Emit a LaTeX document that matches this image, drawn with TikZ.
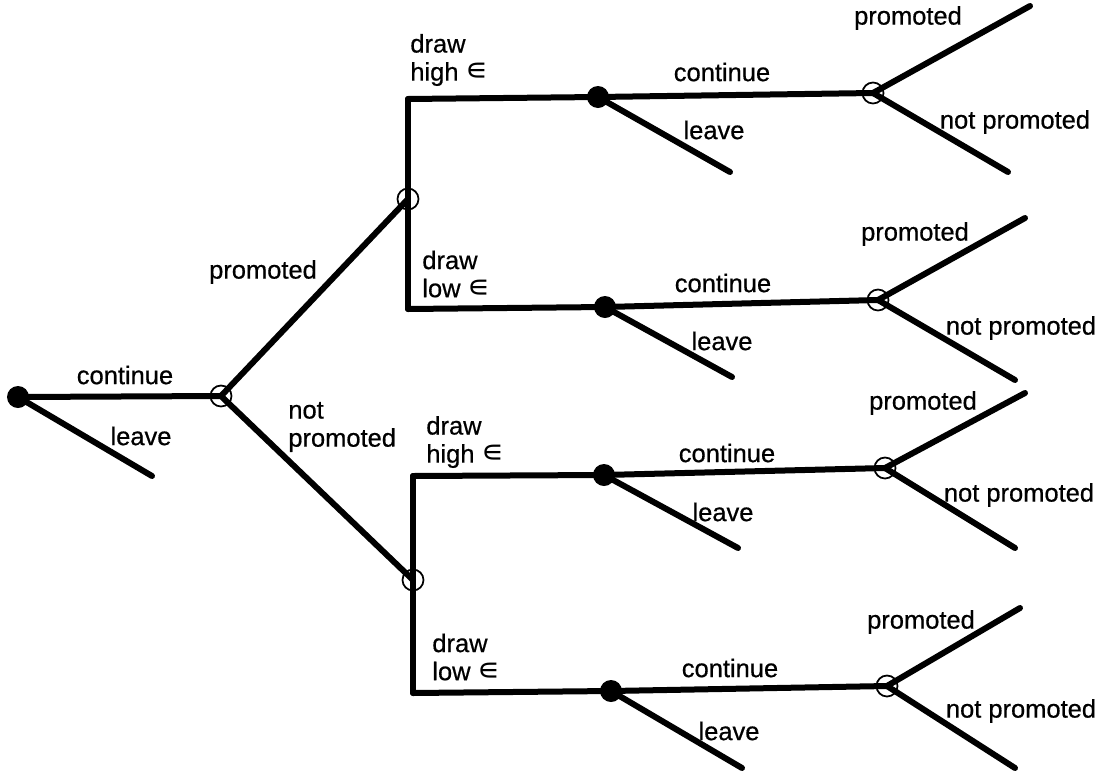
\documentclass[tikz,border=0pt]{standalone}
\usepackage{fontspec}
\setmainfont{Liberation Sans}[FakeBold=0.6]
\newfontfamily\epsfont{DejaVu Sans}
\usetikzlibrary{positioning}
\newcommand{\eps}{{\epsfont\fontsize{18}{16}\selectfont ∊}}
\tikzstyle{chance} = [draw, circle, line width=0.35mm, inner sep=0pt, minimum size=4.2mm]
\tikzstyle{choice} = [fill, circle, inner sep=0pt, minimum size=4.4mm]
\tikzstyle{branch} = [draw, line width=1.2mm, line cap=round]
\tikzstyle{lbl} = [font=\fontsize{14.5}{16}\selectfont, inner sep=0pt, align=left]

\begin{document}
\begin{tikzpicture}[x=0.2mm, y=-0.2mm]
	\useasboundingbox (0,0) rectangle (1111,770);
	% decision and chance points
	\node [choice] (root) at (18,397) {};
	\node [chance] (first) at (221,396) {};
	\node [chance] (prom) at (408,199) {};
	\node [chance] (notprom) at (413,580) {};
	\node [choice] (pHigh) at (598,97) {};
	\node [choice] (pLow) at (605,307) {};
	\node [choice] (nHigh) at (604,475) {};
	\node [choice] (nLow) at (611,691) {};
	\node [chance] (pHighOut) at (873,93) {};
	\node [chance] (pLowOut) at (878,300) {};
	\node [chance] (nHighOut) at (885,468) {};
	\node [chance] (nLowOut) at (887,686) {};
	% corners and loose ends
	\coordinate (pHighCorner) at (408,99);
	\coordinate (pLowCorner) at (408,309);
	\coordinate (nHighCorner) at (413,476);
	\coordinate (nLowCorner) at (413,693);
	\coordinate (rootLeave) at (152,476);
	\coordinate (pHighLeave) at (730,172);
	\coordinate (pLowLeave) at (732,377);
	\coordinate (nHighLeave) at (738,548);
	\coordinate (nLowLeave) at (742,768);
	\coordinate (pHighUp) at (1030,6);
	\coordinate (pLowUp) at (1025,218);
	\coordinate (nHighUp) at (1025,393);
	\coordinate (nLowUp) at (1020,608);
	\coordinate (pHighDown) at (1008,172);
	\coordinate (pLowDown) at (1015,380);
	\coordinate (nHighDown) at (1015,548);
	\coordinate (nLowDown) at (1015,768);

	\draw [branch] (root.center) -- (first.center);
	\draw [branch] (root.center) -- (rootLeave);
	\draw [branch] (first.center) -- (prom.center);
	\draw [branch] (first.center) -- (notprom.center);
	\draw [branch] (pHighCorner) -- (pLowCorner);
	\draw [branch] (nHighCorner) -- (nLowCorner);
	\foreach \b in {pHigh,pLow,nHigh,nLow} {
		\draw [branch] (\b Corner) -- (\b.center) -- (\b Out.center);
		\draw [branch] (\b.center) -- (\b Leave);
		\draw [branch] (\b Out.center) -- (\b Up);
		\draw [branch] (\b Out.center) -- (\b Down);
	}

	% labels
	\node [lbl] at (125,375) {continue};
	\node [lbl] at (141,436) {leave};
	\node [lbl] at (263,272) {promoted};
	\node [lbl, anchor=west] at (288,427) {not\\promoted};
	\node [lbl, anchor=west] at (410,60) {draw\\high \eps};
	\node [lbl, anchor=west] at (422,274) {draw\\low \eps};
	\node [lbl, anchor=west] at (426,442) {draw\\high \eps};
	\node [lbl, anchor=west] at (432,657) {draw\\low \eps};
	\node [lbl] at (722,72) {continue};
	\node [lbl] at (723,283) {continue};
	\node [lbl] at (727,453) {continue};
	\node [lbl] at (730,668) {continue};
	\node [lbl] at (714,130) {leave};
	\node [lbl] at (722,341) {leave};
	\node [lbl] at (723,512) {leave};
	\node [lbl] at (729,731) {leave};
	\node [lbl] at (908,18) {promoted};
	\node [lbl] at (915,234) {promoted};
	\node [lbl] at (923,403) {promoted};
	\node [lbl] at (921,622) {promoted};
	\node [lbl] at (1015,122) {not promoted};
	\node [lbl] at (1021,328) {not promoted};
	\node [lbl] at (1019,495) {not promoted};
	\node [lbl] at (1021,711) {not promoted};
\end{tikzpicture}
\end{document}
